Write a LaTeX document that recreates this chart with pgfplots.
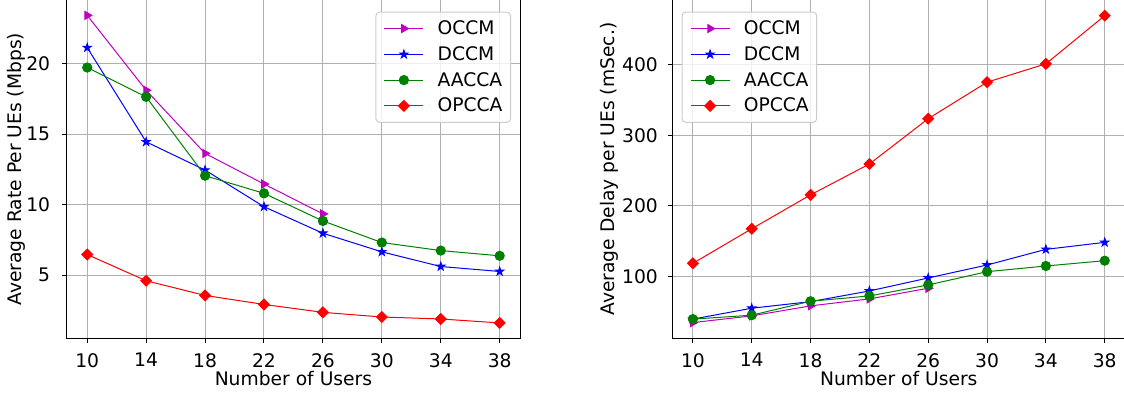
\documentclass[border=0pt]{standalone}
\usepackage{fontspec}
\setmainfont{DejaVu Sans}
\usepackage{pgfplots}
\usepackage{pgfplotstable}
\pgfplotsset{compat=1.18}

\definecolor{cm}{rgb}{0.75,0,0.75}
\definecolor{cb}{rgb}{0,0,1}
\definecolor{cg}{rgb}{0,0.5,0}
\definecolor{cr}{rgb}{1,0,0}
\definecolor{gridc}{gray}{0.69}
\definecolor{legframe}{gray}{0.8}

\newcommand\fsz{\fontsize{18.7pt}{22pt}\selectfont}

% filled five-pointed star
\pgfdeclareplotmark{fivestar}{%
  \pgfpathmoveto{\pgfpointpolar{90}{\pgfplotmarksize}}%
  \pgfpathlineto{\pgfpointpolar{126}{0.382\pgfplotmarksize}}%
  \pgfpathlineto{\pgfpointpolar{162}{\pgfplotmarksize}}%
  \pgfpathlineto{\pgfpointpolar{198}{0.382\pgfplotmarksize}}%
  \pgfpathlineto{\pgfpointpolar{234}{\pgfplotmarksize}}%
  \pgfpathlineto{\pgfpointpolar{270}{0.382\pgfplotmarksize}}%
  \pgfpathlineto{\pgfpointpolar{306}{\pgfplotmarksize}}%
  \pgfpathlineto{\pgfpointpolar{342}{0.382\pgfplotmarksize}}%
  \pgfpathlineto{\pgfpointpolar{18}{\pgfplotmarksize}}%
  \pgfpathlineto{\pgfpointpolar{54}{0.382\pgfplotmarksize}}%
  \pgfpathclose
  \pgfusepathqfillstroke
}

% average rate per UE (Mbps)
\pgfplotstableread{
x  occm  dccm  aacca opcca
10 23.42 21.13 19.72 6.46
14 18.11 14.45 17.64 4.60
18 13.63 12.45 12.05 3.56
22 11.46 9.85  10.80 2.92
26 9.34  7.97  8.84  2.36
30 nan   6.65  7.31  2.03
34 nan   5.61  6.74  1.89
38 nan   5.26  6.37  1.61
}\ratetable

% average delay per UE (ms)
\pgfplotstableread{
x  occm  dccm  aacca opcca
10 34.3  39.2  39.2  118.4
14 43.8  54.7  44.8  167.4
18 58.0  64.0  64.6  215.5
22 67.9  79.2  72.1  259.3
26 83.0  97.6  87.7  323.6
30 nan   116.0 106.5 375.4
34 nan   138.2 114.6 401.4
38 nan   148.1 122.1 469.8
}\delaytable

\pgfplotsset{
  occm/.style={color=cm, line width=1pt, mark=triangle*, mark size=4.6pt, mark options={rotate=-90}},
  dccm/.style={color=cb, line width=1pt, mark=fivestar, mark size=4.2pt},
  aacca/.style={color=cg, line width=1pt, mark=*, mark size=4.6pt},
  opcca/.style={color=cr, line width=1pt, mark=square*, mark size=3.8pt, mark options={rotate=45}},
  panel/.style={
    scale only axis, height=338.3pt,
    xmin=8.6, xmax=39.4,
    xtick={10,14,...,38},
    tick pos=left, tick align=outside,
    major tick length=4.7pt,
    major tick style={line width=1pt, black},
    axis line style={line width=1pt, black},
    grid=major,
    major grid style={line width=1pt, gridc},
    /pgf/number format/assume math mode=true,
    tick label style={font=\fsz, inner sep=0pt},
    xticklabel style={anchor=north, yshift=-10pt},
    xlabel style={font=\fsz, inner sep=0pt, anchor=north, at={(axis description cs:0.5,-0.0958)}},
    ylabel style={font=\fsz, inner sep=0pt, rotate=0, anchor=south},
    legend cell align=left,
    legend image code/.code={%
      \draw[mark repeat=2, mark phase=2, fill opacity=1, draw opacity=1, #1]
        plot coordinates {(0pt,0pt) (19.5pt,0pt) (39pt,0pt)};},
    legend style={font=\fsz, draw=legframe, line width=1pt, rounded corners=3.7pt,
      fill=white, fill opacity=0.8, text opacity=1,
      inner xsep=8pt, inner ysep=8.5pt, row sep=10pt,
      nodes={inner sep=0pt, text depth=1.9pt},
      /tikz/every odd column/.append style={column sep=13.7pt}},
    xlabel={Number of Users},
  },
}

\begin{document}
\begin{tikzpicture}
\useasboundingbox (0pt,0pt) rectangle (1124pt,393pt);

\begin{axis}[panel,
  at={(66.6pt,54.7pt)}, anchor=south west,
  width=453.7pt,
  ymin=0.52, ymax=24.51,
  ytick={5,10,15,20},
  yticklabel style={anchor=east, xshift=-11.6pt},
  ylabel={Average Rate Per UEs (Mbps)},
  ylabel style={at={(axis description cs:-0.0908,0.5)}},
  legend style={at={(axis description cs:0.9795,0.9655)}, anchor=north east},
]
\addplot[occm]  table[x=x, y=occm]  {\ratetable};
\addplot[dccm]  table[x=x, y=dccm]  {\ratetable};
\addplot[aacca] table[x=x, y=aacca] {\ratetable};
\addplot[opcca] table[x=x, y=opcca] {\ratetable};
\legend{OCCM, DCCM, AACCA, OPCCA}
\end{axis}

\begin{axis}[panel,
  at={(672.3pt,54.7pt)}, anchor=south west,
  width=453pt,
  ymin=12, ymax=492,
  ytick={100,200,300,400},
  yticklabel style={anchor=east, xshift=-9.6pt},
  ylabel={Average Delay per UEs (mSec.)},
  ylabel style={at={(axis description cs:-0.1177,0.5)}},
  legend style={at={(axis description cs:0.0205,0.9655)}, anchor=north west},
]
\addplot[occm]  table[x=x, y=occm]  {\delaytable};
\addplot[dccm]  table[x=x, y=dccm]  {\delaytable};
\addplot[aacca] table[x=x, y=aacca] {\delaytable};
\addplot[opcca] table[x=x, y=opcca] {\delaytable};
\legend{OCCM, DCCM, AACCA, OPCCA}
\end{axis}
\end{tikzpicture}
\end{document}
